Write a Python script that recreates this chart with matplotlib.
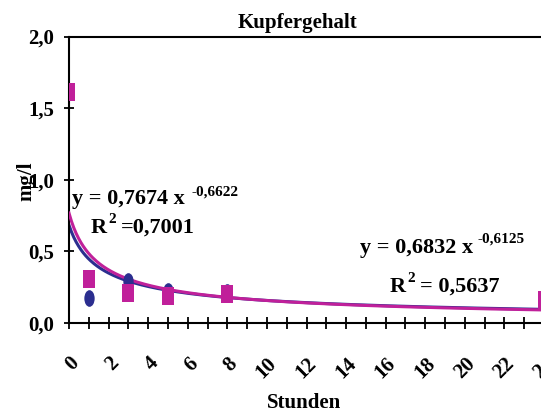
import numpy as np
import matplotlib
matplotlib.use("Agg")
import matplotlib.pyplot as plt
from matplotlib.path import Path
from matplotlib.transforms import Affine2D

# Data
mag_x = [0, 1, 3, 5, 8, 24]
mag_y = [1.61, 0.305, 0.21, 0.19, 0.20, 0.16]
blue_x = [1, 3, 5, 8]
blue_y = [0.178, 0.29, 0.22, 0.215]
fit_mag = (0.7674, -0.6622)
fit_blue = (0.6832, -0.6125)
x_ticks = list(range(0, 25, 2))
y_ticks = [0.0, 0.5, 1.0, 1.5, 2.0]
y_ticklabels = ["0,0", "0,5", "1,0", "1,5", "2,0"]

MAG = "#C0209A"
BLUE = "#2B2E8F"
FONT = "Liberation Serif"

plt.rcParams['font.family'] = [FONT, 'DejaVu Serif']
plt.rcParams['font.weight'] = 'bold'

W, H = 541, 412
fig = plt.figure(figsize=(W/100, H/100), dpi=100)
ax = fig.add_axes([69/W, 1 - 323/H, (544-69)/W, (323-36.5)/H])

# trend lines (Excel category index = x + 1)
xx = np.linspace(0, 24, 400)
ax.plot(xx, fit_blue[0] * (xx + 1) ** fit_blue[1], color=BLUE, lw=2.2, zorder=2)
ax.plot(xx, fit_mag[0] * (xx + 1) ** fit_mag[1], color=MAG, lw=2.2, zorder=3)

ell = Path.unit_circle().transformed(Affine2D().scale(0.62, 1.0))
rect = Path([(-0.68, -1), (0.68, -1), (0.68, 1), (-0.68, 1), (-0.68, -1)],
            [Path.MOVETO, Path.LINETO, Path.LINETO, Path.LINETO, Path.CLOSEPOLY])
ax.plot(blue_x, blue_y, linestyle='none', marker=ell, markersize=12,
        color=BLUE, markeredgewidth=0, zorder=4)
ax.plot(mag_x, mag_y, linestyle='none', marker=rect, markersize=13.5,
        color=MAG, markeredgewidth=0, zorder=5)

ax.set_xlim(0, 24)
ax.set_ylim(0, 2.0)
ax.set_xticks(x_ticks)
ax.set_xticks(range(0, 25), minor=True)
ax.set_xticklabels([str(t) for t in x_ticks], rotation=45, ha='right',
                   rotation_mode='anchor', fontsize=15, fontweight='bold')
ax.set_yticks(y_ticks)
ax.set_yticklabels(y_ticklabels, fontsize=15, fontweight='bold')
ax.tick_params(axis='x', which='both', direction='inout', length=8, width=1.3, pad=18)
ax.tick_params(axis='y', direction='inout', length=7, width=1.3, pad=7)

ax.spines['right'].set_visible(False)
for s in ['left', 'bottom', 'top']:
    ax.spines[s].set_linewidth(1.5)


def put(txt, px, py, size, ha='left', va='baseline', **kw):
    fig.text(px/W, 1 - py/H, txt, ha=ha, va=va, fontsize=size,
             fontweight='bold', **kw)


put("Kupfergehalt", 298, 28, 15, ha='center')
put("Stunden", 304, 408, 15, ha='center')
put("mg/l", 26, 181, 15, ha='center', va='center', rotation=90)

put("y = 0,7674 x", 72, 204, 16)
put("-0,6622", 191, 196, 11)
put("R", 91, 233, 16)
put("2", 108, 223, 11)
put("=0,7001", 121, 233, 16)

put("y = 0,6832 x", 360, 253, 16)
put("-0,6125", 478, 243, 11)
put("R", 390, 292, 16)
put("2", 407, 282, 11)
put("= 0,5637", 420, 292, 16)

fig.savefig("out.png", dpi=100)
